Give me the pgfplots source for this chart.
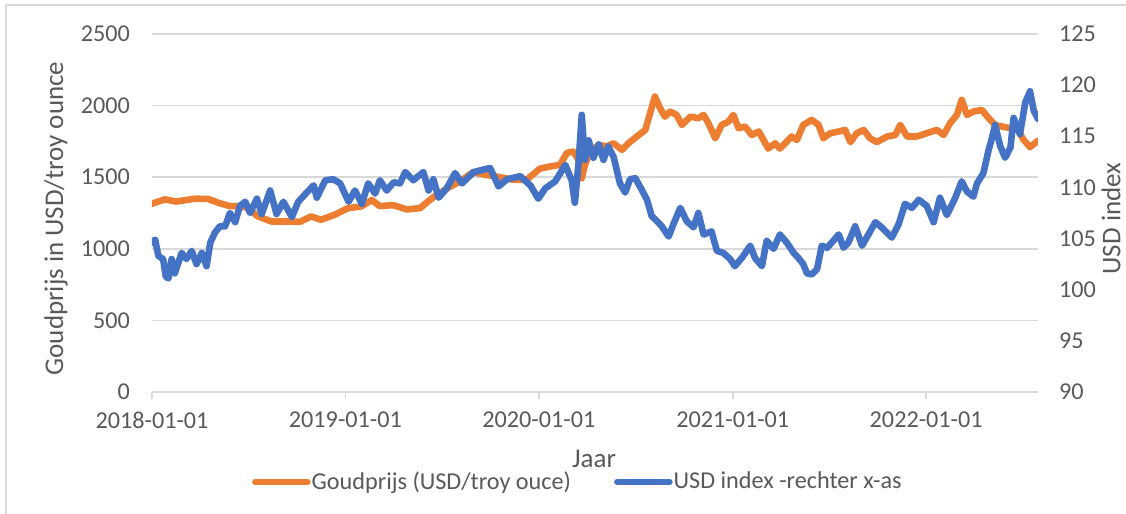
\documentclass[border=0pt]{standalone}
\usepackage{pgfplots}
\pgfplotsset{compat=1.18}
\usepackage{fontspec}
\setmainfont{Carlito}
\definecolor{gridgray}{HTML}{D9D9D9}
\definecolor{txtgray}{HTML}{595959}
\definecolor{goldor}{HTML}{ED7D31}
\definecolor{usdblue}{HTML}{4472C4}
\newcommand\fs{\fontsize{12.1}{14.5}\selectfont}
\newcommand\fl{\fontsize{13.5}{16}\selectfont}
\begin{document}
\begin{tikzpicture}
\useasboundingbox (-76pt,-61pt) rectangle (487pt,196pt);
\draw[gridgray,line width=0.6pt] (-73pt,-70pt) -- (-73pt,193.5pt) -- (500pt,193.5pt);
\begin{axis}[
  at={(0pt,0pt)}, anchor=south west,
  scale only axis, width=443pt, height=179pt,
  xmin=0, xmax=1672, ymin=0, ymax=2500,
  axis x line*=bottom, axis y line*=left,
  x axis line style={gridgray,line width=0.75pt},
  y axis line style={draw=none},
  xtick={0,365,730,1096,1461},
  xticklabels={2018-01-01,2019-01-01,2020-01-01,2021-01-01,2022-01-01},
  ytick={0,500,1000,1500,2000,2500},
  yticklabels={0,500,1000,1500,2000,2500},
  xtick align=outside, major tick length=3.5pt,
  xtick style={gridgray,line width=0.75pt},
  ytick style={draw=none},
  ymajorgrids, grid style={gridgray,line width=0.75pt},
  ticklabel style={font=\fs, text=txtgray},
  yticklabel style={xshift=-7.5pt},
  xticklabel style={yshift=-3pt},
  xlabel={Jaar},
  xlabel style={font=\fl, text=txtgray, at={(axis description cs:0.4989,-0.187)}, anchor=center},
  ylabel={Goudprijs in USD/troy ounce},
  ylabel style={font=\fl, text=txtgray, at={(axis description cs:-0.1084,0.4846)}, anchor=center, rotate=0},
]
\addplot[goldor, line width=3.3pt, line join=round, line cap=round] coordinates {
(0,1315) (24,1345) (46,1330) (81,1350) (106,1348) (128,1318) (147,1298) (166,1298)
(181,1284) (200,1226) (225,1191) (250,1191) (279,1188) (300,1226) (319,1203)
(345,1238) (370,1284) (395,1296) (415,1340) (430,1298) (455,1305) (481,1275)
(506,1284) (519,1325) (531,1360) (556,1420) (581,1470) (606,1535) (632,1515)
(657,1500) (682,1482) (707,1482) (732,1560) (751,1575) (770,1586) (783,1670)
(795,1679) (805,1621) (811,1493) (817,1586) (827,1679) (843,1726) (858,1714)
(871,1737) (887,1691) (899,1737) (915,1784) (931,1830) (940,1947) (949,2063)
(959,1981) (968,1923) (978,1958) (990,1935) (1000,1865) (1016,1923) (1031,1912)
(1041,1935) (1050,1877) (1063,1772) (1075,1865) (1088,1888) (1097,1935)
(1107,1842) (1119,1854) (1132,1795) (1145,1819) (1154,1760) (1163,1700)
(1176,1737) (1185,1700) (1198,1749) (1207,1784) (1217,1760) (1229,1865)
(1245,1900) (1258,1865) (1267,1772) (1280,1807) (1296,1819) (1308,1830)
(1318,1745) (1330,1807) (1343,1830) (1355,1772) (1368,1745) (1387,1784)
(1403,1795) (1412,1865) (1425,1784) (1443,1784) (1462,1807) (1481,1830)
(1494,1795) (1506,1877) (1519,1935) (1528,2040) (1538,1935) (1550,1958)
(1566,1970) (1579,1912) (1591,1865) (1604,1854) (1620,1842) (1632,1842)
(1645,1760) (1657,1710) (1672,1755)
};
\end{axis}
\begin{axis}[
  at={(0pt,0pt)}, anchor=south west,
  scale only axis, width=443pt, height=179pt,
  xmin=0, xmax=1672, ymin=90, ymax=125,
  axis x line=none, axis y line*=right,
  y axis line style={draw=none},
  ytick={90,95,100,105,110,115,120,125},
  ytick style={draw=none},
  /pgf/number format/assume math mode=true,
  ticklabel style={font=\fs, text=txtgray},
  yticklabel style={xshift=7pt},
  ylabel={USD index},
  ylabel style={font=\fl, text=txtgray, at={(axis description cs:1.0825,0.4846)}, anchor=center, rotate=0},
  legend style={at={(axis description cs:0.1125,-0.2514)}, anchor=west, draw=none,
    inner sep=0pt, font=\fs, text=txtgray, legend columns=2,
    nodes={inner xsep=0.5pt},
    /tikz/every even column/.append style={column sep=21pt}},
  legend cell align=left,
  legend image code/.code={\draw[#1,line cap=round] (0pt,0pt) -- (26pt,0pt);},
]
\addlegendimage{goldor, line width=3.3pt}
\addlegendentry{Goudprijs (USD/troy ouce)}
\addplot[usdblue, line width=3.3pt, line join=round, line cap=round] coordinates {
(0,104.6) (6,104.9) (12,103.3) (21,103.0) (26,101.3) (31,101.1) (37,103.0)
(43,101.6) (56,103.6) (65,103.0) (75,103.8) (84,102.5) (94,103.6) (103,102.3)
(110,104.6) (119,105.6) (128,106.2) (138,106.2) (147,107.5) (157,106.6)
(166,108.2) (176,108.6) (185,107.5) (198,108.9) (207,107.4) (223,109.7)
(235,107.4) (248,108.6) (264,107.1) (276,108.6) (292,109.5) (305,110.2)
(311,109.0) (327,110.7) (342,110.8) (355,110.4) (371,108.6) (383,109.7)
(396,108.4) (408,110.4) (421,109.4) (430,110.7) (443,109.7) (456,110.5)
(468,110.4) (478,111.5) (493,110.7) (512,111.5) (522,109.7) (531,110.8)
(541,109.0) (556,109.9) (572,111.4) (585,110.4) (607,111.5) (638,111.9)
(654,110.1) (670,110.8) (695,111.1) (714,110.2) (729,108.9) (742,109.9)
(761,110.6) (780,112.2) (792,110.7) (798,108.5) (805,112.4) (811,117.1)
(817,112.7) (824,114.6) (833,112.9) (843,114.2) (852,112.7) (861,114.0)
(871,113.0) (883,110.4) (893,109.5) (902,110.8) (912,110.9) (924,109.8)
(934,108.8) (943,107.2) (953,106.7) (962,106.2) (975,105.2) (984,106.4)
(997,108.0) (1009,106.7) (1022,106.1) (1031,107.5) (1041,105.4) (1056,105.7)
(1066,103.8) (1078,103.6) (1091,103.0) (1100,102.3) (1113,103.1) (1129,104.3)
(1138,103.1) (1151,102.3) (1160,104.8) (1173,104.0) (1185,105.4) (1198,104.6)
(1211,103.6) (1220,103.1) (1229,102.5) (1236,101.6) (1245,101.5) (1255,102.0)
(1264,104.3) (1274,104.1) (1286,104.8) (1296,105.4) (1305,104.1) (1314,104.6)
(1327,106.2) (1340,104.3) (1352,105.4) (1365,106.6) (1377,106.1) (1396,105.1)
(1409,106.4) (1421,108.4) (1434,108.0) (1447,108.8) (1462,108.2) (1475,106.6)
(1487,109.0) (1500,107.3) (1516,109.0) (1528,110.6) (1538,109.6) (1550,109.1)
(1557,110.4) (1569,111.4) (1579,113.7) (1585,114.8) (1591,116.1) (1601,114.0)
(1610,112.9) (1620,113.9) (1626,116.8) (1638,115.2) (1648,118.3) (1657,119.4)
(1664,117.5) (1672,116.7)
};
\addlegendentry{USD index -rechter x-as}
\end{axis}
\end{tikzpicture}
\end{document}
